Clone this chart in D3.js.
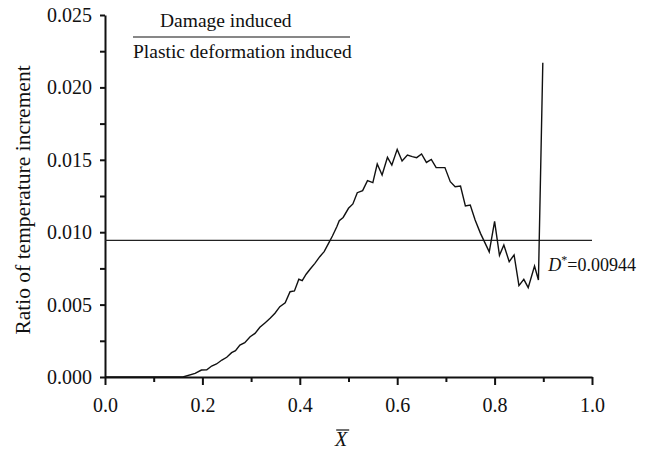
<!DOCTYPE html>
<html>
<head>
<meta charset="utf-8">
<script src="https://cdn.jsdelivr.net/npm/d3@7"></script>
<style>
    body { margin: 0; background: #fff; }
    #chart-area { width: 646px; height: 450px; }
    svg text { font-family: "Liberation Serif", "Times New Roman", Times, "DejaVu Serif", serif !important; fill: #111; }
</style>
</head>
<body>
<div id="chart-area"></div>
<script>

// Data
let xValues = [0, 0.16, 0.185, 0.198, 0.209, 0.219, 0.229, 0.24, 0.25, 0.26, 0.268, 0.277, 0.287, 0.298,
    0.308, 0.318, 0.329, 0.339, 0.349, 0.359, 0.37, 0.38, 0.389, 0.398, 0.405, 0.413, 0.421, 0.431, 0.441,
    0.45, 0.459, 0.467, 0.476, 0.481, 0.489, 0.5, 0.509, 0.518, 0.529, 0.539, 0.55, 0.559, 0.569, 0.58,
    0.589, 0.6, 0.61, 0.621, 0.631, 0.64, 0.65, 0.66, 0.67, 0.68, 0.698, 0.709, 0.719, 0.73, 0.74, 0.75,
    0.76, 0.771, 0.789, 0.8, 0.81, 0.819, 0.83, 0.84, 0.85, 0.86, 0.869, 0.882, 0.89, 0.899];

let ratioValues = [0, 0, 0.00025, 0.00048, 0.0005, 0.00076, 0.0009, 0.00117, 0.00136, 0.00168, 0.00182,
    0.00221, 0.00237, 0.00278, 0.00301, 0.00343, 0.00375, 0.00405, 0.0044, 0.00486, 0.00513, 0.00589,
    0.00594, 0.00675, 0.00665, 0.0071, 0.00744, 0.00785, 0.00831, 0.00866, 0.00923, 0.00974, 0.01038,
    0.01079, 0.01102, 0.01165, 0.01195, 0.01273, 0.01287, 0.01356, 0.01342, 0.01471, 0.01395, 0.01517,
    0.01464, 0.01572, 0.01492, 0.01533, 0.01522, 0.01515, 0.0154, 0.01482, 0.01503, 0.01446, 0.01446,
    0.01349, 0.01314, 0.01319, 0.01181, 0.01188, 0.01084, 0.00992, 0.00864, 0.01075, 0.0084, 0.00912,
    0.00796, 0.00843, 0.00631, 0.00674, 0.00617, 0.00767, 0.0067, 0.0217];

let criticalValue = 0.00944;

let xTicks = [0, 0.2, 0.4, 0.6, 0.8, 1.0];
let xMinorTicks = [0.1, 0.3, 0.5, 0.7, 0.9];
let yTicks = [0, 0.005, 0.010, 0.015, 0.020, 0.025];
let yMinorTicks = [0.0025, 0.0075, 0.0125, 0.0175, 0.0225];

let legendTop = "Damage induced";
let legendBottom = "Plastic deformation induced";
let yLabel = "Ratio of temperature increment";


class LineVis {

    constructor(parentElement) {
        this.parentElement = parentElement;
        this.initVis();
    }

    initVis() {
        let vis = this;

        vis.margin = {top: 15, right: 54, bottom: 73, left: 105};
        vis.width = 646 - vis.margin.left - vis.margin.right;
        vis.height = 450 - vis.margin.top - vis.margin.bottom;

        vis.svg = d3.select("#" + vis.parentElement).append("svg")
                    .attr("width", 646)
                    .attr("height", 450)
                    .append("g")
                    .attr("transform", "translate(" + vis.margin.left + "," + vis.margin.top + ")");

        vis.x = d3.scaleLinear().domain([0, 1]).range([0, vis.width]);
        vis.y = d3.scaleLinear().domain([0, 0.025]).range([vis.height, 0]);

        vis.displayData = xValues.map((d, i) => [d, ratioValues[i]]);

        vis.updateVis();
    }

    updateVis() {
        let vis = this;

        // minor ticks first, major axis on top
        vis.svg.append("g")
            .attr("transform", `translate(0, ${vis.height})`)
            .call(d3.axisBottom(vis.x).tickValues(xMinorTicks).tickSize(5).tickFormat(""))
            .call(g => g.select(".domain").remove())
            .selectAll("line").attr("stroke", "#111").attr("stroke-width", 2);

        vis.svg.append("g")
            .call(d3.axisLeft(vis.y).tickValues(yMinorTicks).tickSize(5).tickFormat(""))
            .call(g => g.select(".domain").remove())
            .selectAll("line").attr("stroke", "#111").attr("stroke-width", 2);

        vis.xAxisGroup = vis.svg.append("g")
            .attr("class", "x-axis")
            .attr("transform", `translate(0, ${vis.height})`)
            .call(d3.axisBottom(vis.x).tickValues(xTicks).tickSize(8).tickSizeOuter(0).tickPadding(13)
                .tickFormat(d3.format(".1f")));

        vis.yAxisGroup = vis.svg.append("g")
            .attr("class", "y-axis")
            .call(d3.axisLeft(vis.y).tickValues(yTicks).tickSize(5).tickSizeOuter(0).tickPadding(8)
                .tickFormat(d3.format(".3f")));

        [vis.xAxisGroup, vis.yAxisGroup].forEach(g => {
            g.attr("font-family", null);
            g.select(".domain").attr("stroke", "#111").attr("stroke-width", 2);
            g.selectAll("line").attr("stroke", "#111").attr("stroke-width", 2);
            g.selectAll("text").style("font-size", "20px").attr("fill", "#111");
        });

        // critical value line
        vis.svg.append("line")
            .attr("x1", vis.x(0)).attr("x2", vis.x(1))
            .attr("y1", vis.y(criticalValue)).attr("y2", vis.y(criticalValue))
            .attr("stroke", "#222").attr("stroke-width", 1.2);

        let dLabel = vis.svg.append("text")
            .attr("x", vis.x(0.9) + 5)
            .attr("y", vis.y(criticalValue) + 31)
            .style("font-size", "18px");
        dLabel.append("tspan").style("font-style", "italic").text("D");
        dLabel.append("tspan").attr("dy", -7).style("font-size", "12px").text("*");
        dLabel.append("tspan").attr("dy", 7).text("=0.00944");

        // curve
        vis.line = d3.line().x(d => vis.x(d[0])).y(d => vis.y(d[1]));

        vis.svg.append("path")
            .datum(vis.displayData)
            .attr("d", vis.line)
            .attr("fill", "none")
            .attr("stroke", "#111")
            .attr("stroke-width", 1.4)
            .attr("stroke-linejoin", "miter");

        // x axis label with overbar
        vis.svg.append("text")
            .attr("x", vis.x(0.485))
            .attr("y", vis.height + 69)
            .attr("text-anchor", "middle")
            .style("font-size", "20px")
            .style("font-style", "italic")
            .text("X");
        vis.svg.append("line")
            .attr("x1", vis.x(0.485) - 5).attr("x2", vis.x(0.485) + 8)
            .attr("y1", vis.height + 53).attr("y2", vis.height + 53)
            .attr("stroke", "#111").attr("stroke-width", 1.2);

        // y axis label
        vis.svg.append("text")
            .attr("transform", `translate(${30 - vis.margin.left}, ${200 - vis.margin.top}) rotate(-90)`)
            .attr("text-anchor", "middle")
            .style("font-size", "21.5px")
            .text(yLabel);

        // legend as a fraction
        let legend = vis.svg.append("g")
            .attr("transform", `translate(${-vis.margin.left}, ${-vis.margin.top})`);
        legend.append("text").attr("x", 160).attr("y", 27).style("font-size", "19.5px").text(legendTop);
        legend.append("line").attr("x1", 133).attr("x2", 350).attr("y1", 37).attr("y2", 37)
            .attr("stroke", "#111").attr("stroke-width", 1.2);
        legend.append("text").attr("x", 133).attr("y", 58).style("font-size", "19.5px").text(legendBottom);
    }
}

let lineVis = new LineVis("chart-area");

</script>
</body>
</html>
